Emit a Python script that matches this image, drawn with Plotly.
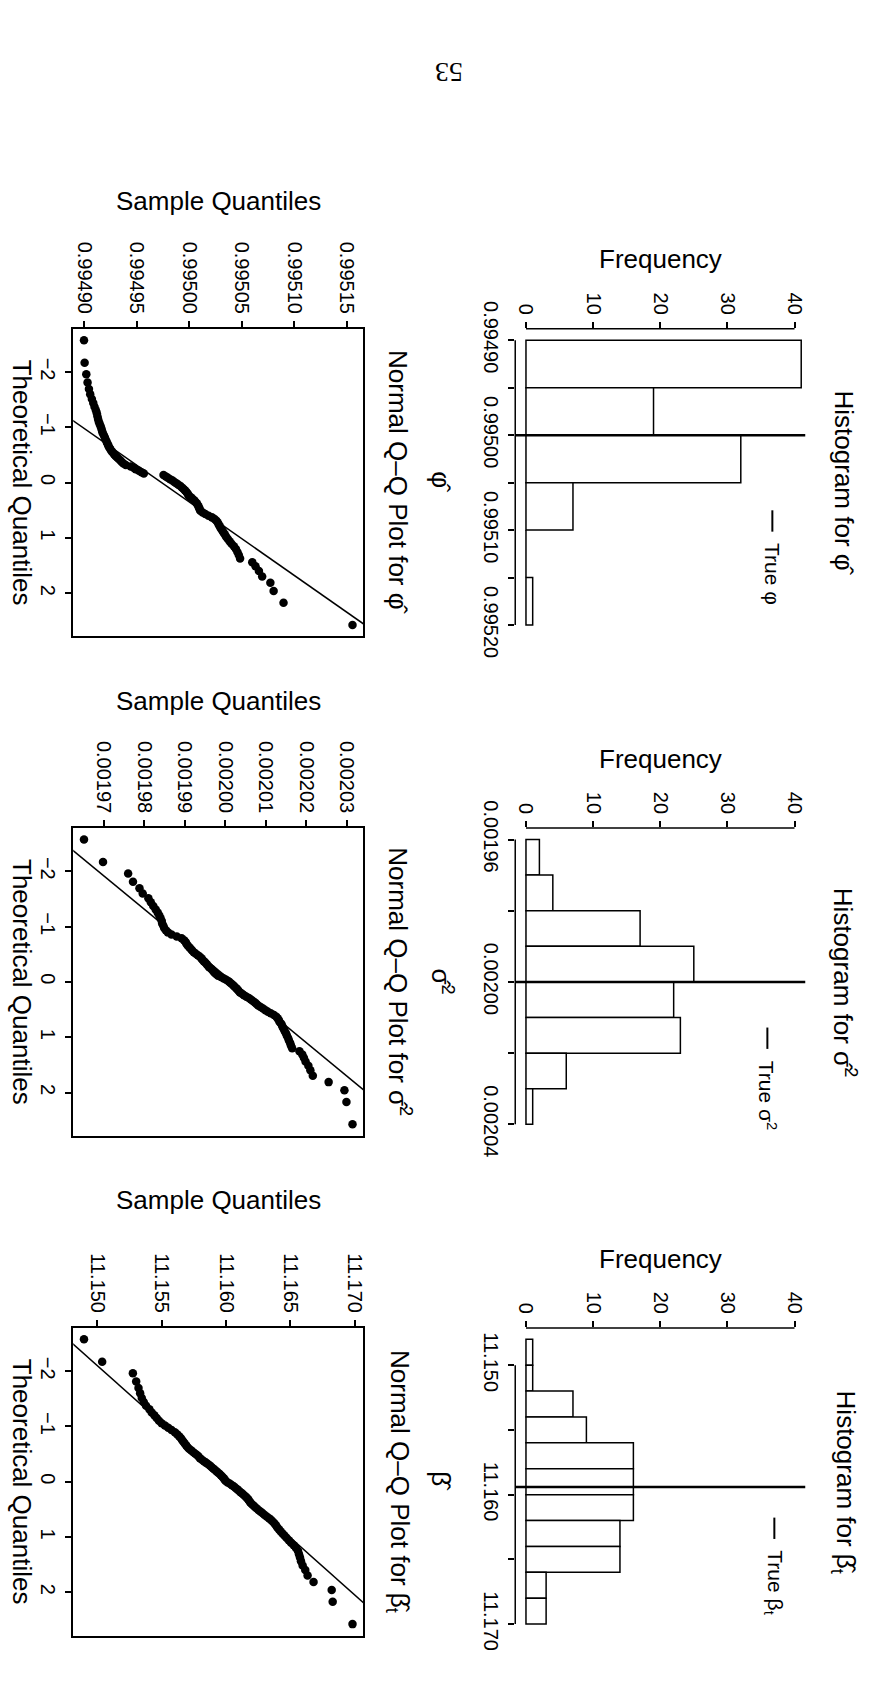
import numpy as np
import plotly.graph_objects as go
from statistics import NormalDist

W, H = 879, 1691
def px(x): return x / W
def py(y): return 1 - y / H

# ---------------- data ----------------
phi_sample = [0.9949000, 0.9949006, 0.9949022, 0.9949034, 0.9949047, 0.9949059, 0.9949075, 0.9949088, 0.9949100, 0.9949113,
              0.9949122, 0.9949128, 0.9949134, 0.9949141, 0.9949150, 0.9949159, 0.9949166, 0.9949172, 0.9949178, 0.9949188,
              0.9949197, 0.9949203, 0.9949213, 0.9949219, 0.9949228, 0.9949234, 0.9949244, 0.9949253, 0.9949263, 0.9949275,
              0.9949288, 0.9949300, 0.9949316, 0.9949331, 0.9949347, 0.9949359, 0.9949375, 0.9949397, 0.9949444, 0.9949475,
              0.9949491, 0.9949522, 0.9949547, 0.9949569, 0.9949756, 0.9949778, 0.9949797, 0.9949819, 0.9949841, 0.9949859,
              0.9949878, 0.9949897, 0.9949916, 0.9949931, 0.9949947, 0.9949959, 0.9949972, 0.9949981, 0.9949991, 0.9949997,
              0.9950016, 0.9950031, 0.9950047, 0.9950059, 0.9950072, 0.9950081, 0.9950088, 0.9950094, 0.9950100, 0.9950106,
              0.9950128, 0.9950153, 0.9950184, 0.9950216, 0.9950241, 0.9950259, 0.9950272, 0.9950281, 0.9950291, 0.9950300,
              0.9950313, 0.9950325, 0.9950338, 0.9950350, 0.9950366, 0.9950384, 0.9950403, 0.9950425, 0.9950444, 0.9950459,
              0.9950472, 0.9950484, 0.9950600, 0.9950631, 0.9950663, 0.9950694, 0.9950772, 0.9950803, 0.9950897, 0.9951553]

sigma_sample = [0.0019651, 0.0019698, 0.0019760, 0.0019772, 0.0019788, 0.0019796, 0.0019810, 0.0019816, 0.0019822, 0.0019828,
                0.0019833, 0.0019837, 0.0019840, 0.0019843, 0.0019844, 0.0019847, 0.0019849, 0.0019853, 0.0019858, 0.0019867,
                0.0019880, 0.0019892, 0.0019898, 0.0019902, 0.0019904, 0.0019907, 0.0019911, 0.0019915, 0.0019918, 0.0019922,
                0.0019927, 0.0019932, 0.0019937, 0.0019941, 0.0019944, 0.0019947, 0.0019951, 0.0019954, 0.0019957, 0.0019960,
                0.0019965, 0.0019968, 0.0019971, 0.0019974, 0.0019978, 0.0019982, 0.0019989, 0.0019996, 0.0020002, 0.0020008,
                0.0020012, 0.0020016, 0.0020020, 0.0020023, 0.0020027, 0.0020030, 0.0020033, 0.0020036, 0.0020041, 0.0020046,
                0.0020052, 0.0020058, 0.0020063, 0.0020068, 0.0020073, 0.0020077, 0.0020081, 0.0020087, 0.0020093, 0.0020099,
                0.0020105, 0.0020112, 0.0020120, 0.0020126, 0.0020129, 0.0020132, 0.0020134, 0.0020138, 0.0020140, 0.0020142,
                0.0020145, 0.0020147, 0.0020150, 0.0020152, 0.0020155, 0.0020157, 0.0020160, 0.0020162, 0.0020165, 0.0020183,
                0.0020190, 0.0020194, 0.0020198, 0.0020205, 0.0020210, 0.0020216, 0.0020255, 0.0020294, 0.0020299, 0.0020314]

beta_sample = [11.148974, 11.150385, 11.152769, 11.153026, 11.153205, 11.153333, 11.153462, 11.153615, 11.153795, 11.154051,
               11.154231, 11.154436, 11.154615, 11.154795, 11.155000, 11.155256, 11.155513, 11.155769, 11.156026, 11.156205,
               11.156359, 11.156487, 11.156590, 11.156692, 11.156795, 11.156897, 11.157000, 11.157128, 11.157282, 11.157436,
               11.157590, 11.157744, 11.157872, 11.157974, 11.158128, 11.158282, 11.158436, 11.158590, 11.158744, 11.158872,
               11.159000, 11.159128, 11.159256, 11.159385, 11.159513, 11.159615, 11.159718, 11.159821, 11.159897, 11.159974,
               11.160128, 11.160308, 11.160462, 11.160615, 11.160744, 11.160872, 11.161000, 11.161128, 11.161256, 11.161385,
               11.161513, 11.161615, 11.161718, 11.161795, 11.161872, 11.161974, 11.162103, 11.162231, 11.162359, 11.162513,
               11.162667, 11.162821, 11.162974, 11.163154, 11.163333, 11.163487, 11.163641, 11.163769, 11.163872, 11.163974,
               11.164103, 11.164231, 11.164385, 11.164538, 11.164692, 11.164872, 11.165051, 11.165256, 11.165436, 11.165590,
               11.165667, 11.165744, 11.165821, 11.165949, 11.166154, 11.166333, 11.166795, 11.168205, 11.168282, 11.169821]

phi_edges = [0.99490, 0.99495, 0.99500, 0.99505, 0.99510, 0.99515, 0.99520]
phi_counts = [41, 19, 32, 7, 0, 1]
sigma_edges = [0.00196, 0.00197, 0.00198, 0.00199, 0.00200, 0.00201, 0.00202, 0.00203, 0.00204]
sigma_counts = [2, 4, 17, 25, 22, 23, 6, 1]
beta_edges = [11.148, 11.150, 11.152, 11.154, 11.156, 11.158, 11.160, 11.162, 11.164, 11.166, 11.168, 11.170]
beta_counts = [1, 1, 7, 9, 16, 16, 16, 14, 14, 3, 3]

true_values = [0.995, 0.002, 11.1594]

freq_ticks = [0, 10, 20, 30, 40]
theo_ticks = [-2, -1, 0, 1, 2]

# labelled ticks and unlabelled (minor) ticks of the histogram value axes
phi_hist_ticks = [0.99490, 0.99500, 0.99510, 0.99520]
phi_hist_minor = [0.99495, 0.99505, 0.99515]
sigma_hist_ticks = [0.00196, 0.00200, 0.00204]
sigma_hist_minor = [0.00198, 0.00202]
beta_hist_ticks = [11.150, 11.160, 11.170]
beta_hist_minor = [11.155, 11.165]

phi_qq_ticks = [0.99490, 0.99495, 0.99500, 0.99505, 0.99510, 0.99515]
sigma_qq_ticks = [0.00197, 0.00198, 0.00199, 0.00200, 0.00201, 0.00202, 0.00203]
beta_qq_ticks = [11.150, 11.155, 11.160, 11.165, 11.170]
tick_formats = ["{:.5f}", "{:.5f}", "{:.3f}"]

PHI = "\u03c6"
hist_titles = [f"Histogram for {PHI}\u0302", "Histogram for σ\u0302<sup>2</sup>", "Histogram for β\u0302<sub>t</sub>"]
hist_xlabels = [f"{PHI}\u0302", "σ\u0302<sup>2</sup>", "β\u0302"]
qq_titles = [f"Normal Q\u2013Q Plot for {PHI}\u0302", "Normal Q\u2013Q Plot for σ\u0302<sup>2</sup>",
             "Normal Q\u2013Q Plot for β\u0302<sub>t</sub>"]
legend_labels = [f"True {PHI}", "True σ<sup>2</sup>", "True β<sub>t</sub>"]

# ---------------- layout constants (pixels) ----------------
FONT = "Liberation Sans, Arial, Helvetica, sans-serif"
row_tops = [310, 824.5, 1339.5]
REG_H = 317
HIST_X = (517, 808)
QQ_X = (73.5, 364.5)
legend_starts = [497, 1030, 1535]
legend_x = [775, 770, 777]

samples = [phi_sample, sigma_sample, beta_sample]
edges_all = [phi_edges, sigma_edges, beta_edges]
counts_all = [phi_counts, sigma_counts, beta_counts]
hist_ticks = [(phi_hist_ticks, phi_hist_minor), (sigma_hist_ticks, sigma_hist_minor), (beta_hist_ticks, beta_hist_minor)]
qq_ticks = [phi_qq_ticks, sigma_qq_ticks, beta_qq_ticks]

fig = go.Figure()
layout = dict(
    width=W, height=H, margin=dict(l=0, r=0, t=0, b=0),
    paper_bgcolor="white", plot_bgcolor="white", showlegend=False,
    font=dict(family=FONT, color="black"),
)
shapes = []
annotations = []
tickfont = dict(family=FONT, size=20, color="black")
tick_style = dict(ticks="outside", ticklen=6, tickwidth=1.5, tickcolor="black", tickfont=tickfont,
                  showgrid=False, zeroline=False, tickangle=90)

def ext(lo, hi):
    d = (hi - lo) * 0.04
    return lo - d, hi + d

def ann(x, y, text, angle=0, size=26, xa="center", ya="middle"):
    annotations.append(dict(x=px(x), y=py(y), xref="paper", yref="paper", text=text, showarrow=False,
                            textangle=angle, xanchor=xa, yanchor=ya,
                            font=dict(family=FONT, size=size, color="black")))

for k in range(3):
    top = row_tops[k]
    bot = top + REG_H
    ydom = [py(bot), py(top)]
    hn, qn = 2 * k + 1, 2 * k + 2
    hx, hy = ("x" if hn == 1 else f"x{hn}"), ("y" if hn == 1 else f"y{hn}")
    qx, qy = f"x{qn}", f"y{qn}"
    fmt = tick_formats[k]

    # ---- histogram (page is rotated: bars extend to the right) ----
    e = edges_all[k]
    c = counts_all[k]
    centers = [(e[i] + e[i + 1]) / 2 for i in range(len(c))]
    widths = [e[i + 1] - e[i] for i in range(len(c))]
    fig.add_trace(go.Bar(x=c, y=centers, width=widths, orientation="h",
                         marker=dict(color="white", line=dict(color="black", width=1.5)),
                         xaxis=hx, yaxis=hy))
    plo, phi_ = ext(e[0], e[-1])
    flo, fhi = ext(0, 40)
    ht, hm = hist_ticks[k]
    layout["xaxis" if hn == 1 else f"xaxis{hn}"] = dict(
        domain=[px(HIST_X[0]), px(HIST_X[1])], range=[flo, fhi], anchor=hy, side="top",
        tickvals=freq_ticks, ticktext=[str(t) for t in freq_ticks], showline=False, **tick_style)
    layout["yaxis" if hn == 1 else f"yaxis{hn}"] = dict(
        domain=ydom, range=[phi_, plo], anchor=hx, side="left",
        tickvals=ht, ticktext=[fmt.format(v) for v in ht], showline=False,
        minor=dict(tickvals=hm, ticks="outside", ticklen=6, tickwidth=1.5, tickcolor="black", showgrid=False),
        **tick_style)
    allt = sorted(ht + hm)
    shapes.append(dict(type="line", xref=hx, yref=f"{hy} domain", x0=freq_ticks[0], x1=freq_ticks[-1], y0=1, y1=1,
                       line=dict(color="black", width=1.5)))
    shapes.append(dict(type="line", xref=f"{hx} domain", yref=hy, x0=0, x1=0, y0=allt[0], y1=allt[-1],
                       line=dict(color="black", width=1.5)))
    shapes.append(dict(type="line", xref=f"{hx} domain", yref=hy, x0=0, x1=1, y0=true_values[k], y1=true_values[k],
                       line=dict(color="black", width=2.5)))

    # ---- normal Q-Q plot ----
    s = np.sort(np.array(samples[k]))
    n = len(s)
    nd = NormalDist()
    z = np.array([nd.inv_cdf((i - 0.5) / n) for i in range(1, n + 1)])
    fig.add_trace(go.Scatter(x=s, y=z, mode="markers", marker=dict(color="black", size=8.5),
                             xaxis=qx, yaxis=qy))
    q1, q3 = np.percentile(s, [25, 75])
    z1, z3 = nd.inv_cdf(0.25), nd.inv_cdf(0.75)
    slope = (q3 - q1) / (z3 - z1)
    inter = q1 - slope * z1
    zl = np.array([-4.0, 4.0])
    fig.add_trace(go.Scatter(x=inter + slope * zl, y=zl, mode="lines", line=dict(color="black", width=1.5),
                             xaxis=qx, yaxis=qy))
    slo, shi = ext(s.min(), s.max())
    zlo, zhi = ext(z.min(), z.max())
    qt = qq_ticks[k]
    layout[f"xaxis{qn}"] = dict(
        domain=[px(QQ_X[0]), px(QQ_X[1])], range=[slo, shi], anchor=qy, side="top",
        tickvals=qt, ticktext=[fmt.format(v) for v in qt],
        showline=True, mirror=True, linecolor="black", linewidth=1.8, **tick_style)
    layout[f"yaxis{qn}"] = dict(
        domain=ydom, range=[zhi, zlo], anchor=qx, side="left",
        tickvals=theo_ticks, ticktext=[("\u2212" + str(-t)) if t < 0 else str(t) for t in theo_ticks],
        showline=True, mirror=True, linecolor="black", linewidth=1.8, **tick_style)

    # ---- texts ----
    cy = top + REG_H / 2
    ann(sum(HIST_X) / 2, top - 71.5, "Frequency")
    ann(sum(QQ_X) / 2, top - 131.5, "Sample Quantiles")
    ann(847, cy, hist_titles[k], angle=90)
    ann(443, cy, hist_xlabels[k], angle=90)
    ann(400, cy, qq_titles[k], angle=90)
    ann(22, cy, "Theoretical Quantiles", angle=90)
    ls = legend_starts[k]
    shapes.append(dict(type="line", xref="paper", yref="paper", x0=px(legend_x[k]), x1=px(legend_x[k]),
                       y0=py(ls), y1=py(ls + 22), line=dict(color="black", width=2)))
    ann(legend_x[k], ls + 32, legend_labels[k], angle=90, size=21, ya="top")

# page number (upside down on the rotated page)
annotations.append(dict(x=px(450), y=py(28), xref="paper", yref="paper", text="53", showarrow=False,
                        textangle=180, font=dict(family="Liberation Serif, DejaVu Serif, serif", size=28, color="black")))

layout["shapes"] = shapes
layout["annotations"] = annotations
fig.update_layout(**layout)
fig.write_html("out.html", post_script="document.body.style.margin='0';")
